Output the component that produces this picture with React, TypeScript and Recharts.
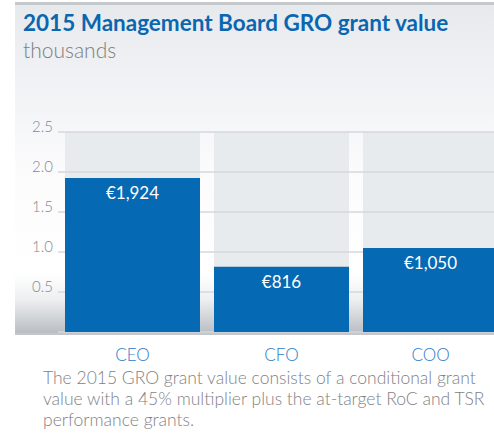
import { Bar, BarChart, CartesianGrid, LabelList, XAxis, YAxis } from "recharts"

// CEO / CFO / COO grant values, thousands of euro
const categories = ["CEO", "CFO", "COO"]
const grantValues = [1.924, 0.816, 1.05]
const valueLabels = ["€1,924", "€816", "€1,050"]
const yTicks = [0.5, 1, 1.5, 2, 2.5]

const chartData = categories.map((name, i) => ({
  name,
  value: grantValues[i],
  label: valueLabels[i],
}))

const FONT = "Lato, 'Open Sans', sans-serif"

const YTick = (props: any) => {
  const { x, y, payload } = props
  return (
    <text x={x} y={y} textAnchor="end" fill="#85888b" fontSize={15} fontFamily={FONT} fontWeight={300}>
      {payload.value.toFixed(1)}
    </text>
  )
}

export default function App() {
  return (
    <div style={{ position: "absolute", left: 0, top: 0, width: 494, height: 441, overflow: "hidden", background: "#fff" }}>
      {/* panel with soft gradient */}
      <div
        style={{
          position: "absolute",
          left: 15,
          top: 2,
          width: 479,
          height: 328,
          borderTop: "3px solid #c6c9cc",
          borderBottom: "2px solid #c3c7cb",
          background:
            "linear-gradient(to bottom, #e7eaed 0%, #f3f4f6 30%, #fbfbfc 50%, #ffffff 82%, #eceef0 90%, #b9bec3 100%)",
        }}
      />
      <div
        style={{
          position: "absolute",
          left: 23,
          top: 9,
          fontFamily: FONT,
          fontWeight: 700,
          fontSize: 22.5,
          lineHeight: "27px",
          color: "#0b66b0",
          whiteSpace: "nowrap",
        }}
      >
        2015 Management Board GRO grant value
      </div>
      <div
        style={{
          position: "absolute",
          left: 23,
          top: 37,
          fontFamily: FONT,
          fontWeight: 300,
          fontSize: 21,
          lineHeight: "25px",
          color: "#7b7e81",
        }}
      >
        thousands
      </div>
      <div style={{ position: "absolute", left: 0, top: 0 }}>
        <BarChart
          width={505}
          height={370}
          data={chartData}
          margin={{ top: 132, right: 0, bottom: 8, left: 0 }}
          barCategoryGap={7}
        >
          <CartesianGrid vertical={false} stroke="#d4d8dc" strokeWidth={1.5} zIndex={-20} />
          <XAxis
            dataKey="name"
            axisLine={false}
            tickLine={false}
            tickSize={0}
            tickMargin={17}
            height={30}
            tick={{ fill: "#2a7bc6", fontSize: 17, fontFamily: FONT, fontWeight: 300 }}
          />
          <YAxis
            domain={[0, 2.5]}
            ticks={yTicks}
            width={58}
            axisLine={false}
            tickLine={false}
            tick={<YTick />}
            tickSize={0}
            tickMargin={5}
          />
          <Bar
            dataKey="value"
            fill="#0569b3"
            background={{ fill: "#e8ebee" }}
            isAnimationActive={false}
          >
            <LabelList
              dataKey="label"
              position="insideTop"
              offset={9}
              fill="#ffffff"
              fontSize={17}
              fontFamily={FONT}
            />
          </Bar>
        </BarChart>
      </div>
      <div
        style={{
          position: "absolute",
          left: 43,
          top: 366.5,
          fontFamily: FONT,
          fontWeight: 300,
          fontSize: 17.5,
          lineHeight: "21px",
          color: "#7f8285",
          whiteSpace: "nowrap",
        }}
      >
        The 2015 GRO grant value consists of a conditional grant
        <br />
        value with a 45% multiplier plus the at-target RoC and TSR
        <br />
        performance grants.
      </div>
    </div>
  )
}
